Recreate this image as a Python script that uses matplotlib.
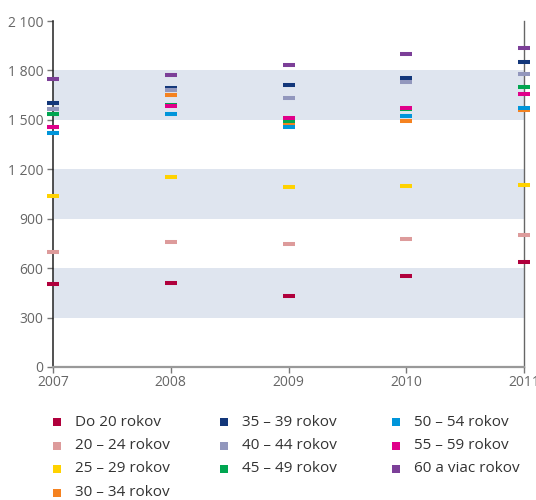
import matplotlib
matplotlib.use("Agg")
import matplotlib.pyplot as plt
from matplotlib.ticker import FuncFormatter

years = [2007, 2008, 2009, 2010, 2011]

groups = ["Do 20 rokov", "20 – 24 rokov", "25 – 29 rokov", "30 – 34 rokov",
          "35 – 39 rokov", "40 – 44 rokov", "45 – 49 rokov",
          "50 – 54 rokov", "55 – 59 rokov", "60 a viac rokov"]

do20 = [504, 508, 431, 553, 637]
r20_24 = [698, 757, 748, 777, 801]
r25_29 = [1038, 1153, 1093, 1099, 1105]
r30_34 = [1536, 1650, 1473, 1492, 1561]
r35_39 = [1603, 1692, 1712, 1753, 1850]
r40_44 = [1567, 1680, 1633, 1729, 1779]
r45_49 = [1536, 1590, 1494, 1565, 1700]
r50_54 = [1421, 1534, 1455, 1522, 1571]
r55_59 = [1457, 1584, 1510, 1571, 1658]
r60 = [1747, 1773, 1834, 1900, 1935]

series = [do20, r20_24, r25_29, r30_34, r35_39, r40_44, r45_49, r50_54, r55_59, r60]
colors = ["#b0003c", "#dd9b9b", "#ffd200", "#f58220", "#13377a",
          "#9297bd", "#00a651", "#0095da", "#e0008a", "#7c3f98"]

bands = [(300, 600), (900, 1200), (1500, 1800)]
yticks = list(range(0, 2101, 300))

plt.rcParams["font.family"] = ["Open Sans", "DejaVu Sans"]

fig = plt.figure(figsize=(5.36, 5.0), dpi=100)
ax = fig.add_axes([53 / 536, 1 - 367 / 500, (524 - 53) / 536, (367 - 21) / 500])

for lo, hi in bands:
    ax.axhspan(lo, hi, color="#dfe5ef", lw=0, zorder=0)

for i, (vals, col) in enumerate(zip(series, colors)):
    ax.plot(years, vals, linestyle="none", marker="_", markersize=8.6,
            markeredgewidth=2.9, color=col, clip_on=False, zorder=3 + i)

ax.set_xlim(2007, 2011)
ax.set_ylim(0, 2100)
ax.set_xticks(years)
ax.set_yticks(yticks)
ax.yaxis.set_major_formatter(FuncFormatter(lambda v, p: f"{int(v):,}".replace(",", " ")))

ax.spines["top"].set_visible(False)
ax.spines["left"].set_color("#222222")
ax.spines["left"].set_linewidth(1.1)
ax.spines["bottom"].set_color("#999999")
ax.spines["bottom"].set_linewidth(1.6)
ax.spines["right"].set_color("#666666")
ax.spines["right"].set_linewidth(1.0)
ax.tick_params(axis="both", colors="#777777", labelcolor="#666666",
               labelsize=10, length=4, width=1)
ax.tick_params(axis="y", pad=3)
ax.tick_params(axis="x", pad=2)

# legend drawn by hand in pixel coordinates
leg = fig.add_axes([0, 0, 1, 1])
leg.set_xlim(0, 536)
leg.set_ylim(500, 0)
leg.axis("off")
col_x = [57, 224, 396]
row_y = [422, 445.5, 469, 492.5]
layout = [(0, 0), (0, 1), (0, 2), (0, 3), (1, 0), (1, 1), (1, 2), (2, 0), (2, 1), (2, 2)]
for name, col, (c, r) in zip(groups, colors, layout):
    leg.scatter(col_x[c], row_y[r], marker="s", s=36, color=col, linewidths=0)
    leg.text(col_x[c] + 18, row_y[r], name, va="center", ha="left",
             fontsize=11, color="#333333")

fig.savefig("out.png", dpi=100)
